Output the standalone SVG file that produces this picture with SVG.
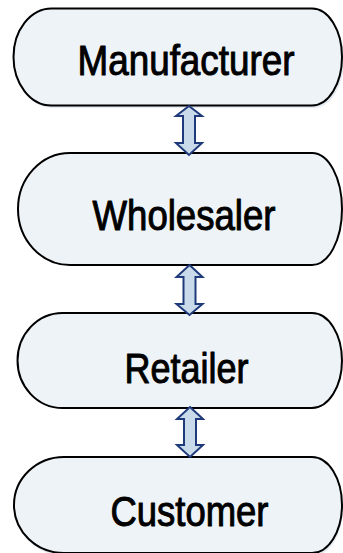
<svg xmlns="http://www.w3.org/2000/svg" width="343" height="553" viewBox="0 0 343 553">
  <style>
    .box { fill: #eef3f8; stroke: #000; stroke-width: 2; }
    .shadow { fill: #e4ebf3; stroke: none; }
    .label { font-family: "Liberation Sans Narrow", "Liberation Sans", Arial, sans-serif; font-size: 42px; fill: #000; stroke: #000; stroke-width: 1; stroke-linejoin: round; }
    .link { fill: #c9dbeb; stroke: #1f3a7a; stroke-width: 2; stroke-linejoin: miter; }
  </style>

  <g id="manufacturer">
    <path class="shadow" d="M52,11 L314,11 A30,48.5 0 0 1 314,108 L52,108 A38,48.5 0 0 1 52,11 Z"/>
    <path class="box" d="M51.5,8.5 L312,8.5 A30,48.5 0 0 1 312,105.5 L51.5,105.5 A38,48.5 0 0 1 51.5,8.5 Z"/>
    <text class="label" x="77.5" y="75" textLength="217" lengthAdjust="spacingAndGlyphs">Manufacturer</text>
  </g>

  <g id="wholesaler">
    <path class="box" d="M70,153 L312,153 A30,56 0 0 1 312,265 L70,265 A52,56 0 0 1 70,153 Z"/>
    <text class="label" x="92.5" y="230" textLength="183" lengthAdjust="spacingAndGlyphs">Wholesaler</text>
  </g>

  <g id="retailer">
    <path class="box" d="M62.5,313 L312,313 A30,47.5 0 0 1 312,408 L62.5,408 A45,47.5 0 0 1 62.5,313 Z"/>
    <text class="label" x="124.5" y="383" textLength="124" lengthAdjust="spacingAndGlyphs">Retailer</text>
  </g>

  <g id="customer">
    <path class="shadow" d="M65,460 L313,460 A30,48 0 0 1 313,556 L65,556 A50,48 0 0 1 65,460 Z"/>
    <path class="box" d="M64,457 L312,457 A30,48 0 0 1 312,553 L64,553 A50,48 0 0 1 64,457 Z"/>
    <text class="label" x="110.5" y="526" textLength="158" lengthAdjust="spacingAndGlyphs">Customer</text>
  </g>

  <g id="connectors">
    <!-- Manufacturer <-> Wholesaler -->
    <path class="link" d="M189,106 L202,116 L195,116 L195,143 L202,143 L189,155 L176,143 L183,143 L183,116 L176,116 Z"/>
    <!-- Wholesaler <-> Retailer -->
    <path class="link" d="M189.5,265 L202.5,277 L195.5,277 L195.5,304 L202.5,304 L189.5,315 L176.5,304 L183.5,304 L183.5,277 L176.5,277 Z"/>
    <!-- Retailer <-> Customer -->
    <path class="link" d="M190,407 L203,419 L196,419 L196,445 L203,445 L190,457 L177,445 L184,445 L184,419 L177,419 Z"/>
  </g>
</svg>
